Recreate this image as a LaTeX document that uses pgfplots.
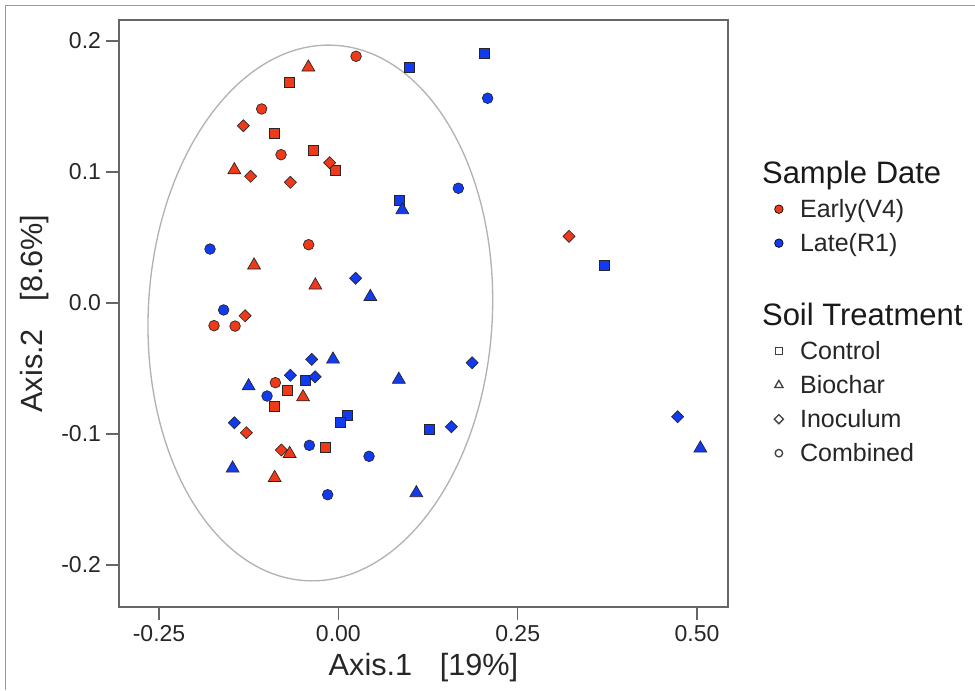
\documentclass[border=0pt]{standalone}
\usepackage{pgfplots}
\pgfplotsset{compat=1.18}
\usepackage{fontspec}
\setmainfont{Liberation Sans}
\definecolor{myred}{RGB}{238,58,24}
\definecolor{myblue}{RGB}{18,58,238}
\begin{document}
\begin{tikzpicture}
\path[use as bounding box] (-89.25pt,-62.25pt) rectangle (642pt,455.25pt);
\draw[black!40, line width=0.75pt] (-84.75pt,-62.25pt) -- (-84.75pt,450.75pt) -- (642pt,450.75pt);
\begin{axis}[
  at={(0pt,0pt)}, anchor=south west,
  scale only axis, width=456.75pt, height=440.25pt,
  xmin=-0.3058, xmax=0.5432, ymin=-0.232, ymax=0.216,
  axis line style={black!60, line width=1.2pt},
  xtick={-0.25,0,0.25,0.5}, xticklabels={-0.25,0.00,0.25,0.50},
  ytick={-0.2,-0.1,0,0.1,0.2}, yticklabels={-0.2,-0.1,0.0,0.1,0.2},
  xtick pos=left, ytick pos=left,
  tick align=outside, major tick length=10pt,
  tick style={black!60, line width=1.2pt},
  /pgf/number format/assume math mode=true,
  ticklabel style={font=\fontsize{17.25}{20}\selectfont, text=black!85},
  xlabel={Axis.1\hspace{0.9em}[19\%]}, ylabel={Axis.2\hspace{0.9em}[8.6\%]},
  label style={font=\fontsize{23}{26}\selectfont, text=black!85},
  xlabel style={at={(axis description cs:0.5,-0.1039)}, anchor=center},
  ylabel style={at={(axis description cs:-0.1379,0.5)}, anchor=center},
  legend cell align=left,
  legend image code/.code={\draw[#1] plot coordinates {(0pt,0pt)};},
  legend style={draw=none, fill=none, at={(rel axis cs:1.0757,0.7611)}, anchor=north west,
    inner sep=0pt, row sep=3.5pt, column sep=12.5pt,
    nodes={inner sep=0pt, text height=17pt, text depth=5pt, font=\fontsize{18.75}{22}\selectfont, text=black!85}},
  clip=false,
]
\draw[black!30, line width=1pt, rotate around={-3:(axis cs:-0.0251,-0.0076)}] (axis cs:-0.0251,-0.0076) ellipse [x radius=0.2398, y radius=0.2046];

% Early (V4) - red
\addplot[forget plot, only marks, mark=square*, mark size=3.75pt, draw=black!85, line width=0.5pt, fill=myred] coordinates {
(-0.0679,0.1685) (-0.0892,0.1292) (-0.0344,0.1168) (-0.0038,0.1010) (-0.0715,-0.0669) (-0.0896,-0.0792) (-0.0177,-0.1105)};
\addplot[forget plot, only marks, mark=triangle*, mark size=5.6pt, draw=black!85, line width=0.5pt, fill=myred] coordinates {
(-0.0418,0.1799) (-0.1450,0.1015) (-0.1175,0.0288) (-0.0321,0.0135) (-0.0492,-0.0718) (-0.0679,-0.1150) (-0.0888,-0.1334)};
\addplot[forget plot, only marks, mark=square*, mark options={rotate=45}, mark size=3.2pt, draw=black!85, line width=0.5pt, fill=myred] coordinates {
(-0.1324,0.1353) (-0.0121,0.1071) (-0.1223,0.0967) (-0.0669,0.0921) (-0.1301,-0.0097) (-0.1283,-0.0990) (-0.0795,-0.1122) (0.3216,0.0509)};
\addplot[forget plot, only marks, mark=*, mark size=4pt, draw=black!85, line width=0.5pt, fill=myred] coordinates {
(0.0247,0.1883) (-0.1069,0.1481) (-0.0799,0.1132) (-0.0414,0.0445) (-0.1733,-0.0173) (-0.1440,-0.0176) (-0.0878,-0.0608)};

% Late (R1) - blue
\addplot[forget plot, only marks, mark=square*, mark size=3.75pt, draw=black!85, line width=0.5pt, fill=myblue] coordinates {
(0.0986,0.1802) (0.2031,0.1903) (0.0850,0.0781) (-0.0456,-0.0588) (0.0125,-0.0855) (0.0032,-0.0914) (0.1273,-0.0966) (0.3708,0.0285)};
\addplot[forget plot, only marks, mark=triangle*, mark size=5.6pt, draw=black!85, line width=0.5pt, fill=myblue] coordinates {
(0.0892,0.0710) (0.0446,0.0048) (-0.0074,-0.0430) (-0.1251,-0.0634) (0.0843,-0.0584) (-0.1474,-0.1262) (0.1087,-0.1450) (0.5047,-0.1109)};
\addplot[forget plot, only marks, mark=square*, mark options={rotate=45}, mark size=3.2pt, draw=black!85, line width=0.5pt, fill=myblue] coordinates {
(0.0241,0.0189) (-0.0372,-0.0430) (-0.0669,-0.0552) (-0.0325,-0.0563) (-0.1450,-0.0914) (0.1864,-0.0456) (0.1575,-0.0944) (0.4730,-0.0868)};
\addplot[forget plot, only marks, mark=*, mark size=4pt, draw=black!85, line width=0.5pt, fill=myblue] coordinates {
(0.2081,0.1563) (0.1673,0.0876) (-0.1789,0.0412) (-0.1599,-0.0053) (-0.0994,-0.0710) (-0.0404,-0.1086) (0.0428,-0.1170) (-0.0149,-0.1463)};

% legend
\addlegendimage{empty legend}
\addlegendentry{\hspace*{-28.5pt}\fontsize{23.25}{28}\selectfont\color{black!90}Sample Date}
\addlegendimage{only marks, mark=*, mark size=3.2pt, draw=black, line width=0.5pt, fill=myred}
\addlegendentry{Early(V4)}
\addlegendimage{only marks, mark=*, mark size=3.2pt, draw=black, line width=0.5pt, fill=myblue}
\addlegendentry{Late(R1)}
\addlegendimage{empty legend}
\addlegendentry[text depth=9.5pt]{}
\addlegendimage{empty legend}
\addlegendentry{\hspace*{-28.5pt}\fontsize{23.25}{28}\selectfont\color{black!90}Soil Treatment}
\addlegendimage{only marks, mark=square, mark size=2.6pt, draw=black!75, line width=1pt}
\addlegendentry{Control}
\addlegendimage{only marks, mark=triangle, mark size=3.6pt, draw=black!75, line width=1pt}
\addlegendentry{Biochar}
\addlegendimage{only marks, mark=square, mark options={rotate=45}, mark size=2.4pt, draw=black!75, line width=1pt}
\addlegendentry{Inoculum}
\addlegendimage{only marks, mark=o, mark size=2.8pt, draw=black!75, line width=1pt}
\addlegendentry{Combined}
\end{axis}
\end{tikzpicture}
\end{document}
